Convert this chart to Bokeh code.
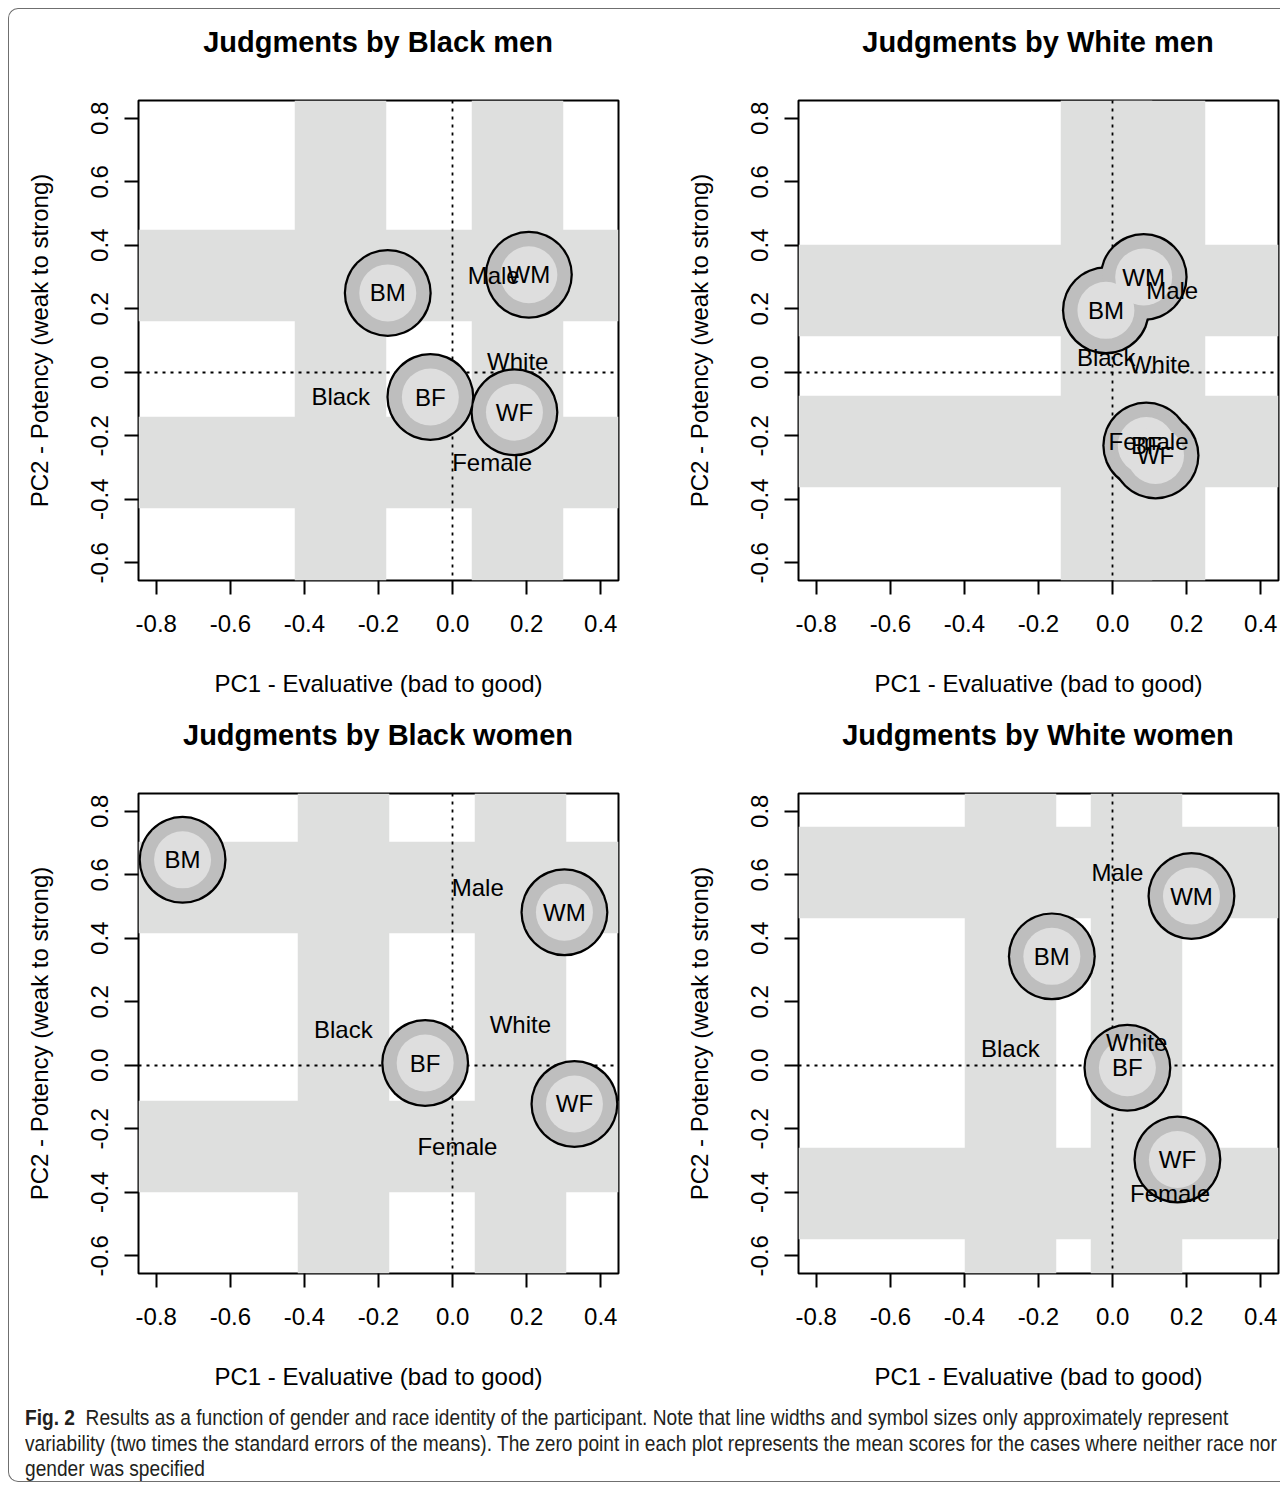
from bokeh.plotting import figure
from bokeh.models import FixedTicker, PrintfTickFormatter, Range1d, Div
from bokeh.layouts import column, row
from bokeh.embed import file_html
from bokeh.resources import INLINE
from bokeh.core.properties import value

# ---------------- data ----------------
titles = ["Judgments by Black men", "Judgments by White men",
          "Judgments by Black women", "Judgments by White women"]
targets = ["BM", "WM", "BF", "WF"]
groups = ["Black", "White", "Male", "Female"]

# Judgments by Black men
bm_target_x = [-0.175, 0.206, -0.060, 0.167]
bm_target_y = [0.250, 0.307, -0.078, -0.126]
bm_group_x = [-0.302, 0.176, 0.111, 0.107]
bm_group_y = [-0.077, 0.035, 0.306, -0.284]

# Judgments by White men
wm_target_x = [-0.018, 0.084, 0.091, 0.116]
wm_target_y = [0.195, 0.300, -0.231, -0.262]
wm_group_x = [-0.017, 0.127, 0.161, 0.097]
wm_group_y = [0.047, 0.025, 0.258, -0.218]

# Judgments by Black women
bw_target_x = [-0.729, 0.302, -0.074, 0.329]
bw_target_y = [0.647, 0.482, 0.007, -0.122]
bw_group_x = [-0.295, 0.183, 0.068, 0.013]
bw_group_y = [0.112, 0.129, 0.561, -0.256]

# Judgments by White women
ww_target_x = [-0.164, 0.213, 0.040, 0.175]
ww_target_y = [0.343, 0.533, -0.008, -0.297]
ww_group_x = [-0.276, 0.065, 0.013, 0.155]
ww_group_y = [0.053, 0.073, 0.606, -0.404]

zero_x = [0.0]
zero_y = [0.0]
x_ticks = [-0.8, -0.6, -0.4, -0.2, 0.0, 0.2, 0.4]
y_ticks = [-0.6, -0.4, -0.2, 0.0, 0.2, 0.4, 0.6, 0.8]
x_lim = (-0.8, 0.4)
y_lim = (-0.6, 0.8)
x_title = "PC1 - Evaluative (bad to good)"
y_title = "PC2 - Potency (weak to strong)"

caption_bold = "Fig. 2"
caption_lines = [
    "Results as a function of gender and race identity of the participant. Note that line widths and symbol sizes only approximately represent",
    "variability (two times the standard errors of the means). The zero point in each plot represents the mean scores for the cases where neither race nor",
    "gender was specified",
]

# ---------------- styling ----------------
FONT = "Liberation Sans"
BAND = "#dedfde"
RING = "#bebebe"
INNER = "#dedede"


def ext(lim):
    d = (lim[1] - lim[0]) * 0.04
    return Range1d(lim[0] - d, lim[1] + d)


def panel(title, tx, ty, gx, gy, mbl, mbr):
    p = figure(frame_width=480, frame_height=480,
               x_range=ext(x_lim), y_range=ext(y_lim),
               min_border_left=mbl, min_border_right=mbr,
               min_border_top=31, min_border_bottom=122,
               output_backend="svg", toolbar_location=None,
               background_fill_color="white", border_fill_color="white")
    p.grid.visible = False
    p.outline_line_color = "black"
    p.outline_line_width = 2

    for ax, ticks in ((p.xaxis[0], x_ticks), (p.yaxis[0], y_ticks)):
        ax.ticker = FixedTicker(ticks=ticks)
        ax.formatter = PrintfTickFormatter(format="%.1f")
        ax.axis_line_color = None
        ax.major_tick_in = 0
        ax.major_tick_out = 14
        ax.minor_tick_in = 0
        ax.minor_tick_out = 0
        ax.major_tick_line_width = 2
        ax.major_tick_line_color = "black"
        ax.major_label_text_font = FONT
        ax.major_label_text_font_size = "24px"
        ax.major_label_text_color = "black"
        ax.axis_label_text_font = FONT
        ax.axis_label_text_font_size = "24px"
        ax.axis_label_text_font_style = "normal"
        ax.axis_label_text_color = "black"
    p.xaxis.axis_label = x_title
    p.yaxis.axis_label = y_title
    p.yaxis.major_label_orientation = "vertical"
    p.xaxis.major_label_standoff = 20
    p.yaxis.major_label_standoff = 16
    p.xaxis.axis_label_standoff = 35
    p.yaxis.axis_label_standoff = 36

    # variability bands (race: vertical, gender: horizontal)
    p.vspan(x=gx[:2], line_width=91.5, line_color=BAND)
    p.hspan(y=gy[2:], line_width=91.5, line_color=BAND)
    # zero reference lines
    p.vspan(x=zero_x, line_width=1.8, line_color="black", line_dash="3 5")
    p.hspan(y=zero_y, line_width=1.8, line_color="black", line_dash="3 5")
    # target symbols
    p.scatter(tx, ty, size=88, fill_color="black", line_color=None)
    p.scatter(tx, ty, size=83.5, fill_color=RING, line_color=None)
    p.scatter(tx, ty, size=57, fill_color=INNER, line_color=None)
    kw = dict(text_align="center", text_baseline="middle",
              text_font=value(FONT), text_font_size="24px", text_color="black")
    p.text(tx, ty, text=targets, **kw)
    p.text(gx, gy, text=groups, **kw)

    width = mbl + 480 + mbr
    head = Div(
        text=('<div style="box-sizing:border-box;width:%dpx;padding:16px %dpx 0 %dpx;'
              'text-align:center;font-family:\'Liberation Sans\';font-weight:bold;'
              'font-size:29px;line-height:35px;color:black;white-space:nowrap;">%s</div>'
              % (width, mbr, mbl, title)),
        width=width, height=60, margin=0)
    return column(head, p, spacing=0)


p1 = panel(titles[0], bm_target_x, bm_target_y, bm_group_x, bm_group_y, 129, 50)
p2 = panel(titles[1], wm_target_x, wm_target_y, wm_group_x, wm_group_y, 130, 2)
p3 = panel(titles[2], bw_target_x, bw_target_y, bw_group_x, bw_group_y, 129, 50)
p4 = panel(titles[3], ww_target_x, ww_target_y, ww_group_x, ww_group_y, 130, 2)

cap_html = (
    '<div style="padding:10px 0 0 16px;">'
    '<div style="font-family:\'Liberation Sans\';font-size:22px;line-height:25.5px;'
    'color:#231f20;white-space:nowrap;transform:scaleX(0.87);transform-origin:0 0;">'
    '<b>' + caption_bold + '</b>&nbsp;&nbsp;' + '<br>'.join(caption_lines) +
    '</div></div>'
)
cap = Div(text=cap_html, width=1270, height=86, margin=0)

layout = column(row(p1, p2, spacing=0), row(p3, p4, spacing=0), cap, spacing=0,
                styles={"margin": "8px 0 0 8px",
                        "border": "1.5px solid #6f6f6f", "border-right": "none",
                        "border-radius": "10px 0 0 10px"})

open("out.html", "w").write(file_html(layout, INLINE))
